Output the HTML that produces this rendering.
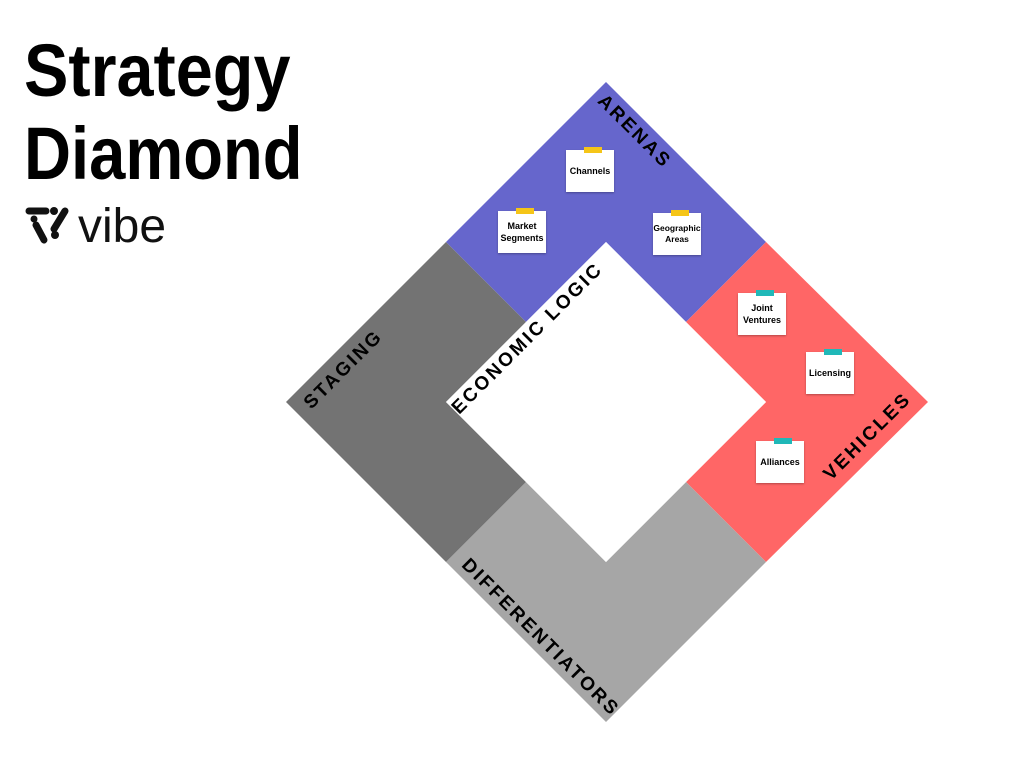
<!DOCTYPE html>
<html><head><meta charset="utf-8"><style>
body{margin:0;width:1024px;height:768px;background:#fff;overflow:hidden;position:relative;font-family:"Liberation Sans",sans-serif}
.t{position:absolute;left:24px;font-weight:bold;font-size:74px;color:#000;transform-origin:0 0;transform:scaleX(0.9);line-height:1;white-space:nowrap}
.n{position:absolute;width:48px;height:42px;background:#fff;box-shadow:0 1px 2px rgba(0,0,0,.3);display:flex;align-items:center;justify-content:center;text-align:center;font-size:9px;font-weight:bold;line-height:1.35}
.n::before{content:"";position:absolute;top:-3px;left:18px;width:18px;height:6px;background:var(--c)}
.l{position:absolute;font-weight:bold;font-size:19px;letter-spacing:2.5px;color:#000;white-space:nowrap;transform:translate(-50%,-50%) rotate(var(--r))}
</style></head><body>
<div class="t" style="top:34px">Strategy</div>
<div class="t" style="top:117px;transform:scaleX(0.88)">Diamond</div>
<svg style="position:absolute;left:24px;top:203px" width="160" height="45" viewBox="0 0 160 45">
<g stroke="#111" stroke-width="7" stroke-linecap="round" fill="none">
<line x1="5" y1="8" x2="22" y2="8"/><line x1="41" y1="8" x2="30" y2="26"/><line x1="12" y1="22" x2="20" y2="37"/>
</g>
<circle cx="30" cy="8" r="4" fill="#111"/><circle cx="10" cy="16" r="3.5" fill="#111"/><circle cx="31" cy="32" r="4" fill="#111"/>
<text x="54" y="39" font-family="Liberation Sans,sans-serif" font-size="48" fill="#111">vibe</text>
</svg>
<svg style="position:absolute;left:0;top:0" width="1024" height="768">
<polygon points="606,82 766,242 686,322 606,242 526,322 446,242" fill="#6666cc"/>
<polygon points="766,242 928,402 766,562 686,482 766,402 686,322" fill="#ff6666"/>
<polygon points="686,482 766,562 606,722 446,562 526,482 606,562" fill="#a6a6a6"/>
<polygon points="446,242 526,322 446,402 526,482 446,562 286,402" fill="#737373"/>
<polygon points="606,242 766,402 606,562 446,402" fill="#fff"/>
</svg>
<div class="l" style="left:634px;top:132px;--r:45deg">ARENAS</div>
<div class="l" style="left:868px;top:437px;--r:-45deg">VEHICLES</div>
<div class="l" style="left:540px;top:638px;--r:45deg">DIFFERENTIATORS</div>
<div class="l" style="left:344px;top:370px;--r:-45deg">STAGING</div>
<div class="l" style="left:528px;top:339px;--r:-45deg">ECONOMIC LOGIC</div>
<div class="n" style="left:566px;top:150px;--c:#f5c518">Channels</div>
<div class="n" style="left:498px;top:211px;--c:#f5c518">Market<br>Segments</div>
<div class="n" style="left:653px;top:213px;--c:#f5c518;font-size:8.5px">Geographic<br>Areas</div>
<div class="n" style="left:738px;top:293px;--c:#20b8b8">Joint<br>Ventures</div>
<div class="n" style="left:806px;top:352px;--c:#20b8b8">Licensing</div>
<div class="n" style="left:756px;top:441px;--c:#20b8b8">Alliances</div>
</body></html>
